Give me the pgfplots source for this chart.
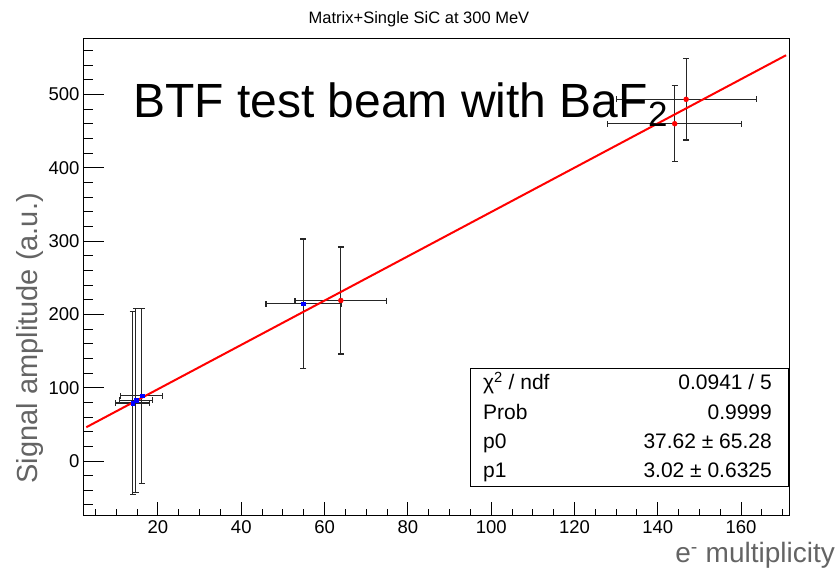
\documentclass[border=0pt]{standalone}
\usepackage{pgfplots}
\pgfplotsset{compat=1.18}
\usepackage{pgfplotstable}
\usepackage{fontspec}
\setmainfont{Liberation Sans}
\definecolor{labgrey}{RGB}{100,100,100}
\pgfplotstableread{
x y ex ey
13.9 79.1 4.0 124.5
14.7 82.8 4.04 125.5
16.15 88.9 5.04 119.3
54.93 214.4 9.0 88.4
}\bluedata
\pgfplotstableread{
x y ex ey
63.9 218.9 11.0 73.0
144.06 460.0 16.1 51.8
146.8 493.3 16.8 55.5
}\reddata
\begin{document}
\begin{tikzpicture}
\path[use as bounding box] (0pt,0pt) rectangle (840pt,572pt);
\pgfplotsset{
  common/.style={
    at={(83pt,56pt)}, anchor=south west,
    scale only axis, width=706pt, height=477.3pt,
    xmin=2, xmax=171.5, ymin=-75, ymax=576,
    axis line style={line width=1pt},
    tick align=inside,
    tick style={black, line width=1pt},
    /pgf/number format/assume math mode=true,
    tick label style={font=\fontsize{18.5}{18.5}\selectfont},
  }
}
\begin{axis}[common,
  xtick={20,40,...,160}, minor xtick={5,10,...,170},
  xtick pos=bottom, ytick=\empty,
  major tick length=14pt, minor tick length=7pt,
  xticklabel style={yshift=-1pt},
]
\addplot[only marks, mark=square*, mark size=1.8pt, color=blue,
  error bars/.cd, x dir=both, x explicit, y dir=both, y explicit,
  error bar style={black!85, line width=1.1pt},
  error mark options={black!85, line width=1.1pt, mark size=3pt, rotate=90}]
  table[x=x, y=y, x error=ex, y error=ey]{\bluedata};
\addplot[only marks, mark=*, mark size=2.5pt, color=red,
  error bars/.cd, x dir=both, x explicit, y dir=both, y explicit,
  error bar style={black!85, line width=1.1pt},
  error mark options={black!85, line width=1.1pt, mark size=3pt, rotate=90}]
  table[x=x, y=y, x error=ex, y error=ey]{\reddata};
\addplot[red, line width=2pt] coordinates {(2.8,46.08) (170.8,553.44)};
\end{axis}
\begin{axis}[common,
  ytick={0,100,...,500}, minor ytick={-60,-40,...,560},
  ytick pos=left, xtick=\empty,
  major tick length=21pt, minor tick length=10.5pt,
]
\end{axis}
% title
\node[anchor=base, font=\fontsize{16.5}{16.5}\selectfont] at (419pt,548pt) {Matrix+Single SiC at 300 MeV};
% big text
\node[anchor=base west, inner sep=0pt, font=\fontsize{48}{48}\selectfont] at (133pt,454pt) {BTF test beam with BaF{\fontsize{35}{35}\selectfont\raisebox{-9pt}{2}}};
% axis labels
\node[anchor=base east, rotate=90, inner sep=0pt, text=labgrey, font=\fontsize{29}{29}\selectfont] at (37pt,379pt) {Signal amplitude (a.u.)};
\node[anchor=base east, inner sep=0pt, text=labgrey, font=\fontsize{28}{28}\selectfont] at (835pt,9pt) {e\textsuperscript{-} multiplicity};
% stats box
\draw[line width=1pt, fill=white] (470pt,85pt) rectangle (788pt,203pt);
\begin{scope}[every node/.style={inner sep=0pt, font=\fontsize{21}{21}\selectfont}]
\node[anchor=base west] at (483pt,182pt) {χ\textsuperscript{2} / ndf};
\node[anchor=base east] at (772pt,182pt) {0.0941 / 5};
\node[anchor=base west] at (483pt,152.5pt) {Prob};
\node[anchor=base east] at (772pt,152.5pt) {0.9999};
\node[anchor=base west] at (483pt,123pt) {p0};
\node[anchor=base east] at (772pt,123pt) {37.62 ± 65.28};
\node[anchor=base west] at (483pt,94pt) {p1};
\node[anchor=base east] at (772pt,94pt) {3.02 ± 0.6325};
\end{scope}
\end{tikzpicture}
\end{document}
